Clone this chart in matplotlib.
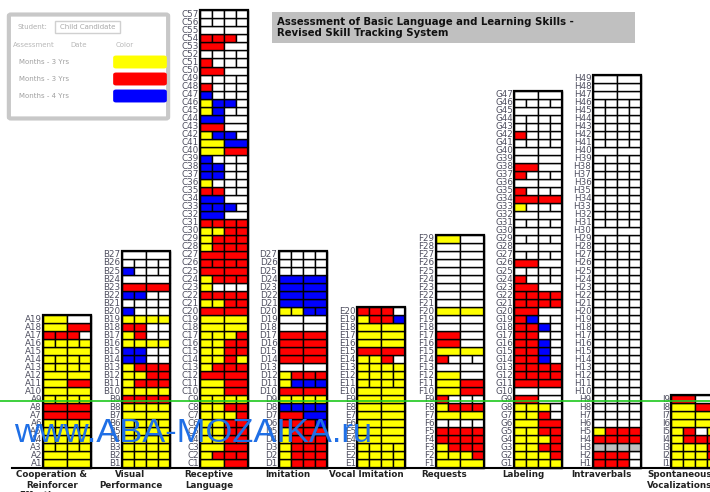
import matplotlib
matplotlib.use("Agg")
import matplotlib.pyplot as plt
from matplotlib.patches import Rectangle, FancyBboxPatch

# one string per item, item 1 first; each letter is the colour of one score cell
# y = 1st assessment, r = 2nd, b = 3rd, w = not yet, g = not scored
col_a = ['yy', 'yy', 'yyyy', 'yyyy', 'yyyy', 'yyyy', 'rr', 'rr', 'yyyy', 'yy',
         'yr', 'yy', 'yyyy', 'yyyy', 'yy', 'yyyy', 'rrrw', 'yr', 'yw']
col_b = ['yyyy', 'yyyy', 'yyyy', 'yyyy', 'yyyy', 'yyyy', 'yy', 'yyyy', 'rrrr', 'yyyy',
         'yrrr', 'yyrr', 'yrrr', 'bbww', 'bbww', 'yyyy', 'yrww', 'rrww', 'yyyy', 'bwww',
         'wwww', 'bbww', 'rr', 'ww', 'bwww', 'wwww', 'ww']
col_c = ['yr', 'yrrr', 'yr', 'yyrr', 'yyrr', 'yyrr', 'yyyr', 'yyrr', 'yyyy', 'yr',
         'yr', 'rr', 'yrrr', 'yyry', 'yyrr', 'yyrr', 'yyyr', 'yy', 'yy', 'rr',
         'yyrr', 'rrrr', 'ywww', 'yrrr', 'rr', 'rrrr', 'rr', 'yrrr', 'yrrr', 'yyrr',
         'rrrr', 'bw', 'bbbw', 'bw', 'rrww', 'ywww', 'bbww', 'bbww', 'bwww', 'yr',
         'yb', 'ybbw', 'rw', 'bw', 'ybww', 'ybbw', 'bwww', 'rwww', 'wwww', 'rw',
         'rwww', 'wwww', 'rw', 'rrrw', 'ww', 'wwww', 'wwww']
col_d = ['yrrr', 'yrrr', 'yrrr', 'yrrr', 'yrrr', 'rrrb', 'rb', 'bbbb', 'yyyy', 'rr',
         'ybbb', 'yrrr', 'ww', 'rr', 'rr', 'rr', 'rr', 'ww', 'ww', 'yybb',
         'bb', 'bb', 'bb', 'bb', 'wwww', 'wwww', 'wwww']
col_e = ['yyyy', 'yyyy', 'yyyy', 'yy', 'yy', 'yy', 'yy', 'yy', 'yy', 'yy',
         'yyyy', 'yyyy', 'yyyy', 'yyrw', 'rr', 'yy', 'yy', 'yy', 'yrrb', 'rrrw']
col_f = ['yy', 'yyyr', 'yrrr', 'rrrr', 'rrrr', 'wwww', 'yy', 'yrrr', 'rwww', 'yr',
         'yr', 'yw', 'ww', 'rwww', 'yy', 'rw', 'rw', 'ww', 'ww', 'yy',
         'ww', 'ww', 'ww', 'ww', 'ww', 'ww', 'ww', 'ww', 'yw']
col_g = ['yyyy', 'yyyr', 'yyrr', 'yyyr', 'yyrr', 'yr', 'yyrw', 'yyyw', 'rw', 'ww',
         'rr', 'rrrr', 'rrrr', 'rrbw', 'rrbw', 'rrbw', 'rrww', 'rrbw', 'rbww', 'rw',
         'rrrr', 'rrrr', 'rw', 'rwww', 'wwww', 'rw', 'wwww', 'ww', 'wwww', 'ww',
         'wwww', 'ww', 'ywww', 'rr', 'rwww', 'ww', 'rwww', 'rw', 'ww', 'ww',
         'wwww', 'rwww', 'wwww', 'wwww', 'ww', 'wwww', 'ww']
col_h = ['rrrw', 'rrrw', 'gggg', 'rrrr', 'yrrr'] + ['wwww'] * 24 + ['ww'] + ['wwww'] * 9 + \
        ['ww'] + ['wwww'] * 6 + ['ww', 'ww', 'ww']
col_i = ['yyyy', 'yyyr', 'yyyr', 'yrrr', 'yrwy', 'yy', 'yy', 'yr', 'rw']

columns = [col_a, col_b, col_c, col_d, col_e, col_f, col_g, col_h, col_i]
letters = ['A', 'B', 'C', 'D', 'E', 'F', 'G', 'H', 'I']
domains = ['Cooperation &\nReinforcer\nEffectiveness', 'Visual\nPerformance',
           'Receptive\nLanguage', 'Imitation', 'Vocal Imitation', 'Requests',
           'Labeling', 'Intraverbals', 'Spontaneous\nVocalizations']
legend_rows = ['Months - 3 Yrs', 'Months - 3 Yrs', 'Months - 4 Yrs']

colors = {'y': '#ffff00', 'r': '#ff0000', 'b': '#0000ff', 'w': '#ffffff', 'g': '#c0c0c0'}
legend_colors = ['#ffff00', '#ff0000', '#0000ff']

W, H = 710, 492
base = 467.5      # pixel row of the grid bottom
row_h = 8.02      # pixels per item
x0, step, gw = 43, 78.5, 48

fig = plt.figure(figsize=(W / 100, H / 100), dpi=100)
ax = fig.add_axes([0, 0, 1, 1])
ax.set_xlim(0, W)
ax.set_ylim(-(H - base) / row_h, base / row_h)
ax.axis('off')


def fx(px):
    return px / W


def fy(py):
    return 1 - py / H


label_col = '#4f4f60'
for i, col in enumerate(columns):
    left = x0 + i * step
    for k, item in enumerate(col):
        n = len(item)
        cw = gw / n
        for j, c in enumerate(item):
            ax.add_patch(Rectangle((left + j * cw, k), cw, 1, facecolor=colors[c],
                                   edgecolor='black', lw=1.0, zorder=2))
        ax.text(left - 1, k + 0.5, f'{letters[i]}{k + 1}', ha='right', va='center',
                fontsize=6.3, color=label_col, zorder=3)
    ax.add_patch(Rectangle((left, 0), gw, len(col), facecolor='none',
                           edgecolor='black', lw=1.6, zorder=3))
    fig.text(fx(left + 9), fy(470), domains[i], ha='center', va='top',
             fontsize=6.3, fontweight='bold', color='#222222', linespacing=1.25)

# bottom line and green marker line
ax.plot([12, W], [0, 0], color='black', lw=1.5, zorder=4)
ax.axhline((base - 401) / row_h, color='#1ec81e', lw=1.2, zorder=5)

# title box
fig.patches.append(Rectangle((fx(272), fy(43)), fx(635) - fx(272), fy(12) - fy(43),
                             transform=fig.transFigure, facecolor='#c0c0c0',
                             edgecolor='none', zorder=1))
fig.text(fx(277), fy(27.5), 'Assessment of Basic Language and Learning Skills -\n'
         'Revised Skill Tracking System', ha='left', va='center', fontsize=7.3,
         fontweight='bold', color='#111111', linespacing=1.15, zorder=2)

# legend box (blurred in the original)
fig.patches.append(FancyBboxPatch((fx(11), fy(117)), fx(155), fy(16) - fy(117),
                                  boxstyle='round,pad=0.003', transform=fig.transFigure,
                                  facecolor='white', edgecolor='#c8c8c8', lw=3, zorder=1))
fig.text(fx(18), fy(27), 'Student:', fontsize=5, color='#b0b0b0', va='center')
fig.patches.append(Rectangle((fx(55), fy(33)), fx(65), fy(21) - fy(33),
                             transform=fig.transFigure, facecolor='white',
                             edgecolor='#d0d0d0', lw=1, zorder=1))
fig.text(fx(60), fy(27), 'Child Candidate', fontsize=5, color='#a8a8a8', va='center')
for txt, xx in zip(['Assessment', 'Date', 'Color'], [13, 70, 116]):
    fig.text(fx(xx), fy(45), txt, fontsize=5, color='#b8b8b8', va='center')
for r, (txt, c) in enumerate(zip(legend_rows, legend_colors)):
    yy = 62 + r * 17
    fig.text(fx(19), fy(yy), txt, fontsize=5, color='#a0a0a0', va='center')
    fig.patches.append(FancyBboxPatch((fx(116), fy(yy + 4.5)), fx(48), fy(0) - fy(9),
                                      boxstyle='round,pad=0.004', transform=fig.transFigure,
                                      facecolor=c, edgecolor='none', zorder=1))

# watermark
fig.text(fx(14), fy(433), 'www.ABA-MOZAIKA.ru', ha='left', va='center',
         fontsize=24.8, family='Liberation Sans', color='#1f6fe6', zorder=10)

fig.savefig('out.png', dpi=100)
